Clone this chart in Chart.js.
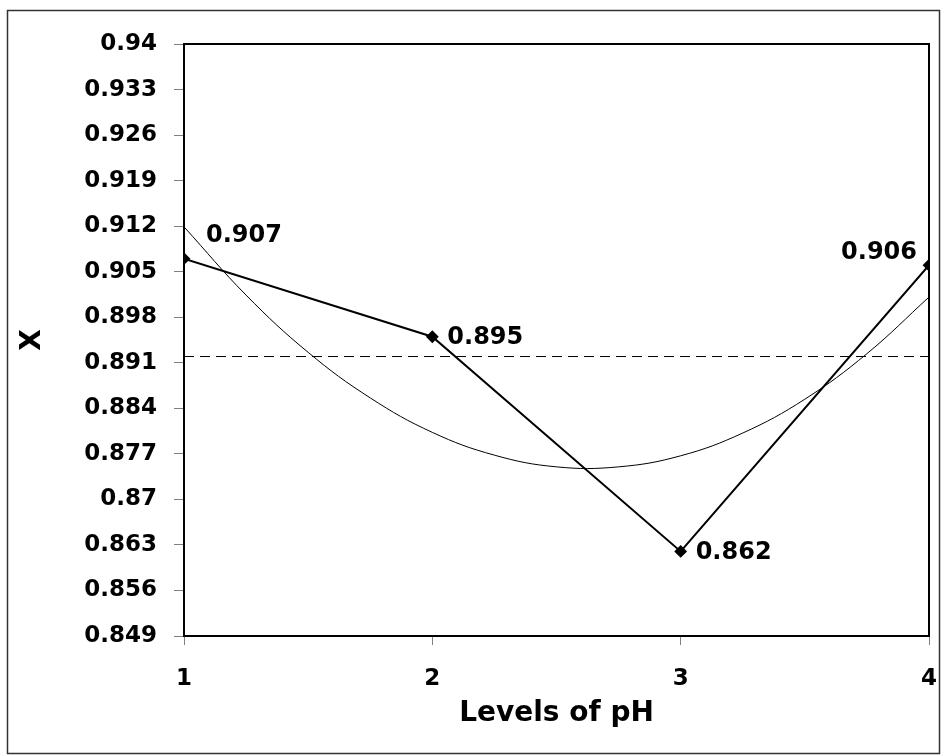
<!DOCTYPE html>
<html>
<head>
<meta charset="utf-8">
<script src="https://cdn.jsdelivr.net/npm/chart.js@4"></script>
<style>
  html, body { margin: 0; padding: 0; background: #fff; }
  #wrap { width: 941px; height: 755px; }
</style>
</head>
<body>
<div id="wrap"><canvas id="phChart" width="941" height="755"></canvas></div>
<script>
// levels of pH and the measured X
const levels = [1, 2, 3, 4]
const xValues = [0.907, 0.895, 0.862, 0.906]

// thin trend curve
const trendLevels = [1, 1.25, 1.5, 1.75, 2, 2.25, 2.5, 2.75, 3, 3.25, 3.5, 3.75, 4]
const trendValues = [0.9119, 0.9014, 0.8926, 0.8856, 0.8803, 0.8768, 0.875, 0.875, 0.8767, 0.8802, 0.8854, 0.8924, 0.9011]

// dashed mean line
const meanValue = 0.89196

const yTicks = [0.849, 0.856, 0.863, 0.87, 0.877, 0.884, 0.891, 0.898, 0.905, 0.912, 0.919, 0.926, 0.933, 0.94]
const xTicks = [1, 2, 3, 4]

// label offsets (px) for each point label
const labelOffsets = [[22, -23, 'left'], [15, 1, 'left'], [15, 1, 'left'], [-12, -12, 'right']]

const FONT = '"DejaVu Sans", sans-serif'

const frame = {
  id: 'frame',
  afterDraw(chart) {
    const ctx = chart.ctx
    const a = chart.chartArea
    ctx.save()
    // plot box
    ctx.strokeStyle = '#000'
    ctx.lineWidth = 2
    ctx.beginPath()
    ctx.moveTo(a.left, a.top)
    ctx.lineTo(a.right, a.top)
    ctx.lineTo(a.right, a.bottom)
    ctx.stroke()
    // outer border
    ctx.strokeStyle = '#333'
    ctx.lineWidth = 1.5
    ctx.strokeRect(7.5, 10.5, 932, 743)
    // point labels
    const meta = chart.getDatasetMeta(0)
    ctx.fillStyle = '#000'
    ctx.font = 'bold 24px ' + FONT
    ctx.textBaseline = 'middle'
    meta.data.forEach((pt, i) => {
      const o = labelOffsets[i]
      ctx.textAlign = o[2]
      ctx.fillText(xValues[i].toFixed(3), pt.x + o[0], pt.y + o[1])
    })
    ctx.restore()
  }
}

new Chart(document.getElementById('phChart'), {
  type: 'scatter',
  data: {
    datasets: [
      {
        label: 'X',
        data: levels.map((l, i) => ({ x: l, y: xValues[i] })),
        showLine: true,
        borderColor: '#000',
        backgroundColor: '#000',
        borderWidth: 2,
        pointStyle: 'rectRot',
        pointRadius: 5,
        pointHoverRadius: 5,
        order: 1
      },
      {
        label: 'trend',
        data: trendLevels.map((l, i) => ({ x: l, y: trendValues[i] })),
        showLine: true,
        borderColor: '#000',
        borderWidth: 1,
        pointRadius: 0,
        tension: 0.4,
        order: 2
      },
      {
        label: 'mean',
        data: [{ x: 1, y: meanValue }, { x: 4, y: meanValue }],
        showLine: true,
        borderColor: '#000',
        borderWidth: 1,
        borderDash: [10, 6],
        pointRadius: 0,
        order: 3
      }
    ]
  },
  options: {
    responsive: false,
    animation: false,
    events: [],
    layout: { padding: { top: 44, right: 12, left: 0, bottom: 24 } },
    plugins: {
      legend: { display: false },
      tooltip: { enabled: false }
    },
    scales: {
      x: {
        type: 'linear',
        min: 1,
        max: 4,
        afterBuildTicks: s => { s.ticks = xTicks.map(v => ({ value: v })) },
        afterFit: s => {
          s.height = 95
          s.paddingLeft = 0
          s.paddingRight = 0
        },
        border: { color: '#000', width: 2 },
        grid: { drawOnChartArea: false, color: '#808080', tickLength: 9 },
        ticks: {
          color: '#000',
          font: { family: FONT, size: 23, weight: 'bold' },
          padding: 20,
          maxRotation: 0
        },
        title: {
          display: true,
          text: 'Levels of pH',
          color: '#000',
          font: { family: FONT, size: 28, weight: 'bold' },
          padding: { top: 0, bottom: 0 }
        }
      },
      y: {
        min: 0.849,
        max: 0.94,
        afterBuildTicks: s => { s.ticks = yTicks.map(v => ({ value: v })) },
        afterFit: s => {
          s.width = 184
          s.paddingTop = 0
          s.paddingBottom = 0
        },
        border: { color: '#000', width: 2 },
        grid: { drawOnChartArea: false, color: '#808080', tickLength: 10 },
        ticks: {
          color: '#000',
          font: { family: FONT, size: 23, weight: 'bold' },
          padding: 17,
          callback: v => String(v)
        },
        title: {
          display: true,
          text: 'X',
          color: '#000',
          font: { family: FONT, size: 28, weight: 'bold' },
          padding: { top: 16 }
        }
      }
    }
  },
  plugins: [frame]
})
</script>
</body>
</html>
